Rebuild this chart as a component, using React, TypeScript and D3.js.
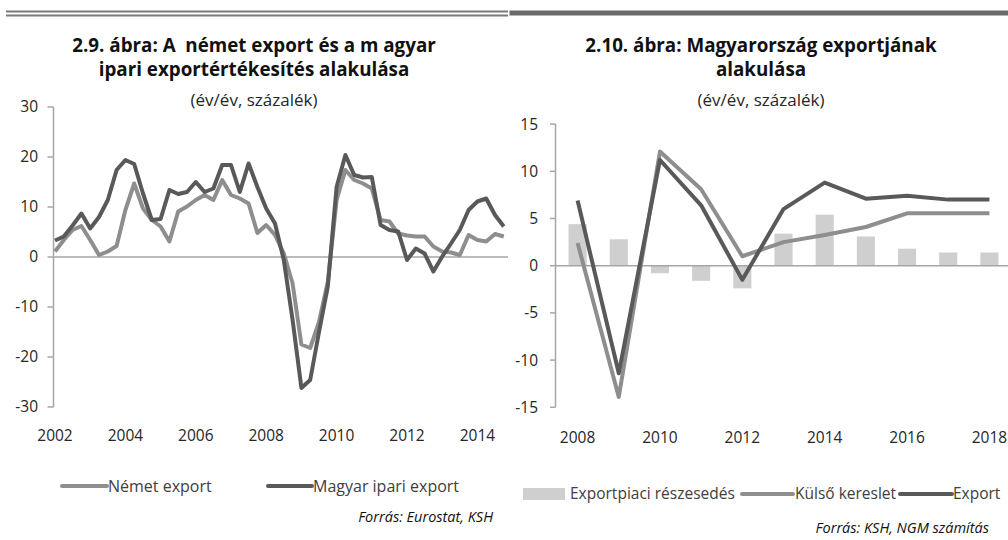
import React from "react";
import * as d3 from "d3";

// ---- Left chart data (quarterly, 2002Q1 – 2014Q4) ----
const leftStartYear = 2002;
const nemetExport = [1.1, 3.4, 5.4, 6.2, 3.4, 0.4, 1.1, 2.2, 9.4, 14.7, 9.7, 7.4, 6.1, 3.1, 9.1, 10.1, 11.4, 12.4, 11.4, 15.4, 12.4, 11.7, 10.7, 4.8, 6.4, 4.4, 0.7, -5.3, -17.5, -18.2, -13, -5, 11.4, 17.4, 15.4, 14.7, 13.7, 7.4, 7.1, 4.7, 4.3, 4.1, 4.1, 2.1, 1.1, 0.9, 0.4, 4.4, 3.4, 3.1, 4.6, 4.1];
const magyarIpariExport = [3.3, 4.1, 6.3, 8.7, 5.7, 8, 11.4, 17.4, 19.4, 18.6, 12.7, 7.4, 7.6, 13.4, 12.6, 13, 15, 13, 13.7, 18.4, 18.4, 13, 18.7, 14, 9.7, 6.7, -0.6, -12.6, -26.2, -24.6, -15, -5.9, 14, 20.4, 16.4, 15.9, 16, 6.4, 5.4, 5.1, -0.6, 1.7, 0.7, -2.9, 0.1, 2.7, 5.4, 9.4, 11.1, 11.7, 8.4, 6.1];
const leftYTicks = [-30, -20, -10, 0, 10, 20, 30];
const leftXTicks = [2002, 2004, 2006, 2008, 2010, 2012, 2014];

// ---- Right chart data (annual, 2008 – 2018) ----
const rightYears = [2008, 2009, 2010, 2011, 2012, 2013, 2014, 2015, 2016, 2017, 2018];
const exportpiaciReszesedes = [4.4, 2.8, -0.8, -1.6, -2.4, 3.4, 5.4, 3.1, 1.8, 1.4, 1.4];
const kulsoKereslet = [2.4, -13.9, 12.1, 8.1, 1.0, 2.5, 3.25, 4.1, 5.55, 5.55, 5.55];
const exportValues = [6.9, -11.4, 11.2, 6.4, -1.5, 6.0, 8.8, 7.1, 7.4, 7.0, 7.0];
const rightYTicks = [-15, -10, -5, 0, 5, 10, 15];
const rightXTicks = [2008, 2010, 2012, 2014, 2016, 2018];

const FONT = "'Open Sans', 'Noto Sans', sans-serif";
const C_LIGHT = "#8e8e8e";
const C_DARK = "#595959";
const C_BAR = "#cfcfcf";
const C_AXIS = "#a6a6a6";
const C_TEXT = "#262626";
const TICK_FS = 15.5;
const LEG_FS = 16;
const LEG_FS_R = 15.5;

export default function App() {
  // Left scales
  const lx = d3.scaleLinear().domain([2002, 2014]).range([55, 477.4]);
  const ly = d3.scaleLinear().domain([-30, 30]).range([407, 107]);
  const tOf = (i: number) => leftStartYear + i / 4;
  const leftLine = d3
    .line<number>()
    .x((_, i) => lx(tOf(i)))
    .y((d) => ly(d));

  // Right scales
  const rx = d3.scaleBand<number>().domain(rightYears).range([557, 1010]);
  const rc = (yr: number) => (rx(yr) as number) + rx.bandwidth() / 2;
  const ry = d3.scaleLinear().domain([-15, 15]).range([407.3, 124.1]);
  const barW = rx.bandwidth() * 0.44;
  const rightLine = (vals: number[]) =>
    d3
      .line<number>()
      .x((_, i) => rc(rightYears[i]))
      .y((d) => ry(d))(vals) as string;

  return (
    <svg width={1008} height={540} style={{ position: "absolute", left: 0, top: 0, background: "#fff" }} fontFamily={FONT}>
      <rect x={0} y={0} width={1008} height={540} fill="#fff" />
      {/* top rules */}
      <rect x={6} y={10.5} width={502} height={2} fill="#7a7a7a" />
      <rect x={6} y={14.5} width={502} height={2} fill="#7a7a7a" />
      <rect x={509.5} y={10.5} width={498.5} height={5} fill="#6a6a6a" />

      {/* ---------- LEFT CHART ---------- */}
      <g>
        <text x={254} y={52} textAnchor="middle" fontSize={18.8} fontWeight={700} fill="#111" style={{ whiteSpace: "pre" }}>
          {"2.9. ábra: A  német export és a m agyar"}
        </text>
        <text x={254} y={76} textAnchor="middle" fontSize={18.8} fontWeight={700} fill="#111">
          ipari exportértékesítés alakulása
        </text>
        <text x={254} y={106} textAnchor="middle" fontSize={17} fill={C_TEXT}>
          (év/év, százalék)
        </text>

        {/* y axis */}
        <line x1={53.5} x2={53.5} y1={ly(30)} y2={ly(-30)} stroke={C_AXIS} strokeWidth={1.5} />
        {leftYTicks.map((t) => (
          <g key={t}>
            <line x1={47.5} x2={53.5} y1={ly(t)} y2={ly(t)} stroke={C_AXIS} strokeWidth={1.5} />
            <text x={38} y={ly(t)} dy="0.35em" textAnchor="end" fontSize={TICK_FS} fill={C_TEXT}>
              {t}
            </text>
          </g>
        ))}
        {/* zero line */}
        <line x1={53.5} x2={508} y1={ly(0)} y2={ly(0)} stroke={C_AXIS} strokeWidth={1.5} />
        {leftXTicks.map((t) => (
          <text key={t} x={lx(t)} y={441} textAnchor="middle" fontSize={TICK_FS} fill={C_TEXT}>
            {t}
          </text>
        ))}

        <path d={leftLine(nemetExport) as string} fill="none" stroke={C_LIGHT} strokeWidth={4} strokeLinejoin="round" />
        <path d={leftLine(magyarIpariExport) as string} fill="none" stroke={C_DARK} strokeWidth={4} strokeLinejoin="round" />

        {/* legend */}
        <line x1={62} x2={107} y1={486} y2={486} stroke={C_LIGHT} strokeWidth={4} strokeLinecap="round" />
        <text x={108} y={486} dy="0.35em" fontSize={LEG_FS} fill="#404040">
          Német export
        </text>
        <line x1={268} x2={312} y1={486} y2={486} stroke={C_DARK} strokeWidth={4} strokeLinecap="round" />
        <text x={313} y={486} dy="0.35em" fontSize={LEG_FS} fill="#404040">
          Magyar ipari export
        </text>
        <text x={493} y={517} dy="0.35em" textAnchor="end" fontSize={14.5} fontStyle="italic" fill="#111">
          Forrás: Eurostat, KSH
        </text>
      </g>

      {/* ---------- RIGHT CHART ---------- */}
      <g>
        <text x={761} y={52} textAnchor="middle" fontSize={18.8} fontWeight={700} fill="#111">
          2.10. ábra: Magyarország exportjának
        </text>
        <text x={761} y={76} textAnchor="middle" fontSize={18.8} fontWeight={700} fill="#111">
          alakulása
        </text>
        <text x={761} y={106} textAnchor="middle" fontSize={17} fill={C_TEXT}>
          (év/év, százalék)
        </text>

        {rightYears.map((yr, i) => {
          const v = exportpiaciReszesedes[i];
          return (
            <rect
              key={yr}
              x={rc(yr) - barW / 2}
              y={ry(Math.max(0, v))}
              width={barW}
              height={Math.abs(ry(v) - ry(0))}
              fill={C_BAR}
            />
          );
        })}

        <line x1={555.5} x2={555.5} y1={ry(15)} y2={ry(-15)} stroke={C_AXIS} strokeWidth={1.5} />
        {rightYTicks.map((t) => (
          <g key={t}>
            <line x1={550} x2={555.5} y1={ry(t)} y2={ry(t)} stroke={C_AXIS} strokeWidth={1.5} />
            <text x={538} y={ry(t)} dy="0.35em" textAnchor="end" fontSize={TICK_FS} fill={C_TEXT}>
              {t}
            </text>
          </g>
        ))}
        <line x1={555.5} x2={1008} y1={ry(0)} y2={ry(0)} stroke={C_AXIS} strokeWidth={1.5} />
        {rightXTicks.map((t) => (
          <text key={t} x={rc(t)} y={443} textAnchor="middle" fontSize={TICK_FS} fill={C_TEXT}>
            {t}
          </text>
        ))}

        <path d={rightLine(kulsoKereslet)} fill="none" stroke={C_LIGHT} strokeWidth={4} strokeLinejoin="round" />
        <path d={rightLine(exportValues)} fill="none" stroke={C_DARK} strokeWidth={4} strokeLinejoin="round" />

        {/* legend */}
        <rect x={523} y={488} width={42} height={12} fill={C_BAR} />
        <text x={570} y={494} dy="0.35em" fontSize={LEG_FS_R} fill="#404040">
          Exportpiaci részesedés
        </text>
        <line x1={742} x2={793} y1={494} y2={494} stroke={C_LIGHT} strokeWidth={4} strokeLinecap="round" />
        <text x={795} y={494} dy="0.35em" fontSize={LEG_FS_R} fill="#404040">
          Külső kereslet
        </text>
        <line x1={900} x2={952} y1={494} y2={494} stroke={C_DARK} strokeWidth={4} strokeLinecap="round" />
        <text x={953} y={494} dy="0.35em" fontSize={LEG_FS_R} fill="#404040">
          Export
        </text>
        <text x={989} y={528} dy="0.35em" textAnchor="end" fontSize={14.5} fontStyle="italic" fill="#111">
          Forrás: KSH, NGM számítás
        </text>
      </g>
    </svg>
  );
}
